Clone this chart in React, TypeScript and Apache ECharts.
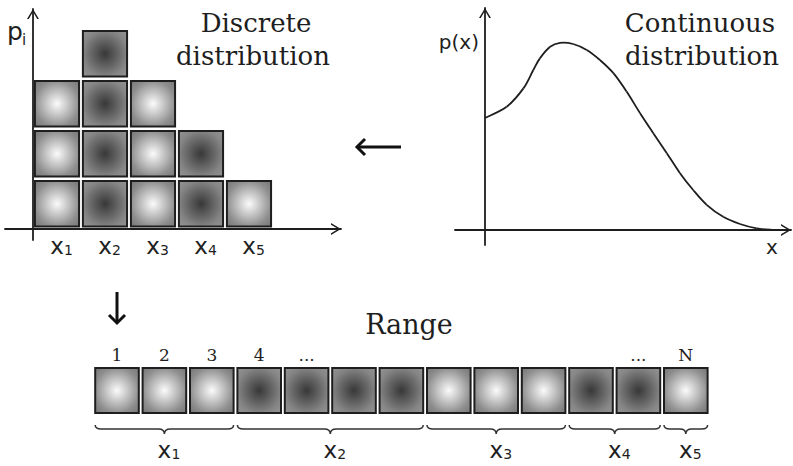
import React, { useEffect, useRef } from "react";
import * as echarts from "echarts";

// ---------- data ----------
const categories = ["x₁", "x₂", "x₃", "x₄", "x₅"];
const labelBase = ["x", "x", "x", "x", "x"];
const labelSub = ["1", "2", "3", "4", "5"];
const counts = [3, 4, 3, 2, 1];
const shades = ["light", "dark", "light", "dark", "light"];

const curveX = [0, 0.72, 1.28, 1.61, 1.83, 2.17, 2.5, 2.94, 3.39, 3.83, 4.28, 4.72, 5.17, 5.61, 6.06, 6.5, 6.94, 7.39, 7.94, 8.5, 9.06, 9.61];
const curveY = [2.8, 3.08, 3.54, 4.0, 4.29, 4.58, 4.68, 4.65, 4.5, 4.25, 3.92, 3.46, 2.92, 2.42, 1.92, 1.42, 1.0, 0.63, 0.33, 0.15, 0.04, 0];

const rangeTopLabels = ["1", "2", "3", "4", "...", "", "", "", "", "", "", "...", "N"];

// ---------- helpers ----------
const ink = "#1e1e1e";
const arrowPath = "path://M60 0 L120 100 L102 100 L60 28 L18 100 L0 100 Z";

function fillFor(shade: string) {
  if (shade === "light") {
    return new echarts.graphic.RadialGradient(0.5, 0.5, 0.72, [
      { offset: 0, color: "#fbfbfb" },
      { offset: 0.7, color: "#8e8e8e" },
      { offset: 1, color: "#747474" },
    ]);
  }
  return new echarts.graphic.RadialGradient(0.5, 0.5, 0.72, [
    { offset: 0, color: "#383838" },
    { offset: 0.7, color: "#858585" },
    { offset: 1, color: "#959595" },
  ]);
}

function txt(text: string, x: number, y: number, size: number, family: string, align = "center", valign = "middle") {
  return {
    type: "text",
    silent: true,
    style: {
      text,
      x,
      y,
      fontSize: size,
      fontFamily: family,
      fill: ink,
      align,
      textAlign: align,
      verticalAlign: valign,
      textVerticalAlign: valign,
    },
  };
}

// "x" with a dropped subscript digit, centred on the "x"
function subLabel(g: number, cx: number, cy: number) {
  return [
    txt(labelBase[g], cx, cy, 23, "DejaVu Sans"),
    txt(labelSub[g], cx + 7, cy + 4, 14, "DejaVu Sans", "left"),
  ];
}

export default function App() {
  const ref = useRef<HTMLDivElement>(null);

  useEffect(() => {
    const chart = echarts.init(ref.current!, null, { renderer: "svg" });

    const discreteData: number[][] = [];
    counts.forEach((c, i) => {
      for (let j = 0; j < c; j++) discreteData.push([i + 0.5, j, i]);
    });
    const discreteLabels = categories.map((_, i) => [i + 0.5, 0, i]);

    const rangeData: number[][] = [];
    const braceData: number[][] = [];
    let idx = 0;
    counts.forEach((c, g) => {
      braceData.push([idx, idx + c - 1, g]);
      for (let k = 0; k < c; k++) {
        rangeData.push([idx, g]);
        idx++;
      }
    });

    const curveData = curveX.map((x, i) => [x, curveY[i], i]);
    const n = curveX.length;

    const axisLineStyle = { color: ink, width: 1.8 };
    const arrowLine = {
      onZero: true,
      symbol: ["none", arrowPath],
      symbolSize: [12, 10],
      symbolOffset: [0, -5],
      lineStyle: axisLineStyle,
    };

    const option: any = {
      animation: false,
      backgroundColor: "#ffffff",
      grid: [
        { left: 5, top: 9, width: 336, height: 231 },
        { left: 455, top: 8, width: 336, height: 237 },
        { left: 93.3, top: 368, width: 616.2, height: 46 },
      ],
      xAxis: [
        {
          gridIndex: 0,
          type: "value",
          min: -0.583,
          max: 6.417,
          axisLine: arrowLine,
          axisTick: { show: false },
          splitLine: { show: false },
          axisLabel: { show: false },
        },
        {
          gridIndex: 1,
          type: "value",
          min: -1,
          max: 10.2,
          axisLine: arrowLine,
          axisTick: { show: false },
          splitLine: { show: false },
          axisLabel: { show: false },
        },
        {
          gridIndex: 2,
          type: "category",
          position: "top",
          data: rangeTopLabels,
          axisLine: { show: false },
          axisTick: { show: false },
          splitLine: { show: false },
          axisLabel: {
            interval: 0,
            margin: 5,
            fontSize: 17,
            fontFamily: "DejaVu Serif",
            color: ink,
          },
        },
      ],
      yAxis: [
        {
          gridIndex: 0,
          type: "value",
          min: -0.22,
          max: 4.4,
          axisLine: arrowLine,
          axisTick: { show: false },
          splitLine: { show: false },
          axisLabel: { show: false },
        },
        {
          gridIndex: 1,
          type: "value",
          min: -0.375,
          max: 5.55,
          axisLine: arrowLine,
          axisTick: { show: false },
          splitLine: { show: false },
          axisLabel: { show: false },
        },
        {
          gridIndex: 2,
          type: "value",
          min: 0,
          max: 1,
          show: false,
        },
      ],
      series: [
        {
          type: "custom",
          xAxisIndex: 0,
          yAxisIndex: 0,
          data: discreteData,
          clip: false,
          renderItem: (_p: any, api: any) => {
            const x = api.value(0);
            const lvl = api.value(1);
            const g = api.value(2);
            const p1 = api.coord([x - 0.46, lvl + 0.96]);
            const p2 = api.coord([x + 0.46, lvl + 0.05]);
            return {
              type: "rect",
              shape: { x: p1[0], y: p1[1], width: p2[0] - p1[0], height: p2[1] - p1[1] },
              style: { fill: fillFor(shades[g]), stroke: ink, lineWidth: 2 },
            };
          },
        },
        {
          type: "custom",
          xAxisIndex: 0,
          yAxisIndex: 0,
          data: discreteLabels,
          clip: false,
          renderItem: (_p: any, api: any) => {
            const g = api.value(2);
            const p = api.coord([api.value(0), 0]);
            return { type: "group", children: subLabel(g, p[0], p[1] + 17) };
          },
        },
        {
          // smooth density curve: one Catmull-Rom segment per data point
          type: "custom",
          xAxisIndex: 1,
          yAxisIndex: 1,
          data: curveData,
          clip: false,
          renderItem: (_p: any, api: any) => {
            const i = api.value(2);
            if (i >= n - 1) return null;
            const pt = (k: number) => {
              const kk = Math.max(0, Math.min(n - 1, k));
              return api.coord([curveX[kk], curveY[kk]]);
            };
            const p0 = pt(i - 1);
            const p1 = pt(i);
            const p2 = pt(i + 1);
            const p3 = pt(i + 2);
            return {
              type: "bezierCurve",
              shape: {
                x1: p1[0],
                y1: p1[1],
                x2: p2[0],
                y2: p2[1],
                cpx1: p1[0] + (p2[0] - p0[0]) / 6,
                cpy1: p1[1] + (p2[1] - p0[1]) / 6,
                cpx2: p2[0] - (p3[0] - p1[0]) / 6,
                cpy2: p2[1] - (p3[1] - p1[1]) / 6,
              },
              style: { stroke: ink, lineWidth: 1.8, fill: "none" },
            };
          },
        },
        {
          type: "custom",
          xAxisIndex: 2,
          yAxisIndex: 2,
          data: rangeData,
          clip: false,
          renderItem: (_p: any, api: any) => {
            const i = api.value(0);
            const g = api.value(1);
            const top = api.coord([i, 1]);
            const bottom = api.coord([i, 0]);
            const w = api.size([1, 0])[0] * 0.92;
            return {
              type: "rect",
              shape: { x: top[0] - w / 2, y: top[1], width: w, height: bottom[1] - top[1] - 1 },
              style: { fill: fillFor(shades[g]), stroke: ink, lineWidth: 2 },
            };
          },
        },
        {
          type: "custom",
          xAxisIndex: 2,
          yAxisIndex: 2,
          data: braceData,
          clip: false,
          renderItem: (_p: any, api: any) => {
            const s = api.value(0);
            const e = api.value(1);
            const g = api.value(2);
            const band = api.size([1, 0])[0];
            const ps = api.coord([s, 0]);
            const pe = api.coord([e, 0]);
            const x0 = ps[0] - band * 0.46;
            const x1 = pe[0] + band * 0.46;
            const mid = (x0 + x1) / 2;
            const yb = ps[1];
            const yT = yb + 11;
            const yL = yb + 15;
            const yTip = yb + 20;
            const r = Math.min(6, (x1 - x0) / 6);
            const d =
              `M${x0} ${yT} Q${x0} ${yL} ${x0 + r} ${yL} L${mid - r} ${yL} Q${mid} ${yL} ${mid} ${yTip} ` +
              `Q${mid} ${yL} ${mid + r} ${yL} L${x1 - r} ${yL} Q${x1} ${yL} ${x1} ${yT}`;
            return {
              type: "group",
              children: [
                {
                  type: "path",
                  shape: { pathData: d },
                  style: { fill: "none", stroke: "#333", lineWidth: 1.5 },
                },
                ...subLabel(g, mid, yb + 36),
              ],
            };
          },
        },
      ],
      graphic: [
        txt("Discrete", 256, 23, 26, "DejaVu Serif"),
        txt("distribution", 253, 56, 26, "DejaVu Serif"),
        txt("Continuous", 700, 23, 26, "DejaVu Serif"),
        txt("distribution", 702, 56, 26, "DejaVu Serif"),
        txt("Range", 409, 324, 27, "DejaVu Serif"),
        txt("p", 15, 31, 25, "DejaVu Sans"),
        txt("i", 24, 40, 15, "DejaVu Sans"),
        txt("p(x)", 479, 42, 20, "DejaVu Sans", "right"),
        txt("x", 772, 247, 20, "DejaVu Sans"),
        {
          type: "line",
          silent: true,
          shape: { x1: 357, y1: 147, x2: 401, y2: 147 },
          style: { stroke: "#111", lineWidth: 3 },
        },
        {
          type: "polyline",
          silent: true,
          shape: { points: [[365, 139], [357, 147], [365, 155]] },
          style: { stroke: "#111", lineWidth: 3, fill: "none" },
        },
        {
          type: "line",
          silent: true,
          shape: { x1: 117, y1: 292, x2: 117, y2: 323 },
          style: { stroke: "#111", lineWidth: 3 },
        },
        {
          type: "polyline",
          silent: true,
          shape: { points: [[109, 315], [117, 323], [125, 315]] },
          style: { stroke: "#111", lineWidth: 3, fill: "none" },
        },
      ],
    };

    chart.setOption(option);
    return () => chart.dispose();
  }, []);

  return (
    <div
      ref={ref}
      style={{ position: "fixed", left: 0, top: 0, width: 793, height: 466, background: "#fff" }}
    />
  );
}
